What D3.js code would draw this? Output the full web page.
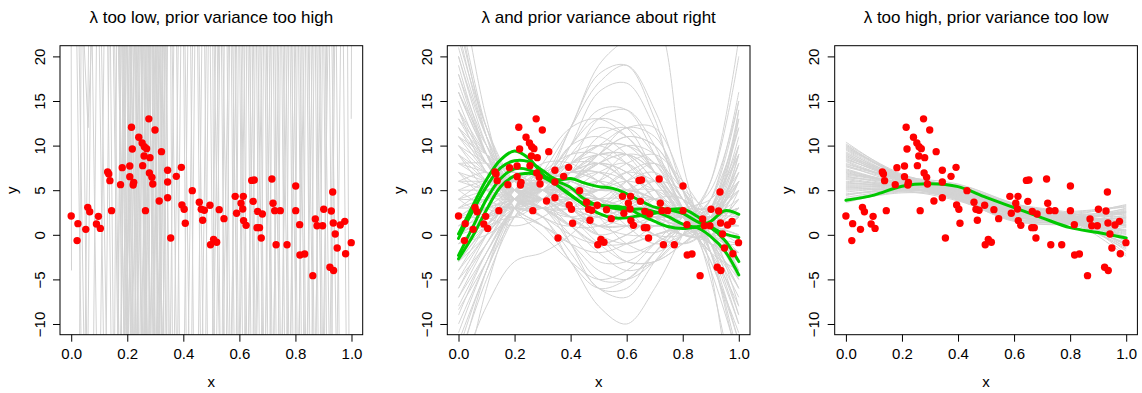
<!DOCTYPE html>
<html><head><meta charset="utf-8">
<script src="https://cdn.jsdelivr.net/npm/d3@7"></script>
<style>
html,body{margin:0;padding:0;background:#fff;}
svg{display:block;font-family:"Liberation Sans",Arial,Helvetica,sans-serif;}
</style></head><body>
<svg id="chart" width="1142" height="393"></svg>
<script>
// Panel titles and axis ticks
const titles = [
  "λ too low, prior variance too high",
  "λ and prior variance about right",
  "λ too high, prior variance too low"
];
const xTicks = [0, 0.2, 0.4, 0.6, 0.8, 1.0];
const yTicks = [-10, -5, 0, 5, 10, 15, 20];

// Observed data (same in every panel)
const obsX = [0.000,0.021,0.024,0.052,0.059,0.066,0.090,0.097,0.104,0.130,0.134,0.138,0.144,0.176,0.182,0.209,0.209,0.215,0.218,0.221,0.223,0.241,0.253,0.255,0.260,0.261,0.265,0.269,0.277,0.279,0.281,0.288,0.291,0.299,0.314,0.322,0.344,0.344,0.344,0.355,0.375,0.393,0.395,0.403,0.407,0.432,0.457,0.464,0.475,0.469,0.495,0.497,0.508,0.519,0.528,0.545,0.585,0.590,0.606,0.612,0.614,0.615,0.624,0.644,0.653,0.649,0.665,0.663,0.672,0.678,0.682,0.716,0.720,0.726,0.731,0.746,0.770,0.801,0.801,0.815,0.816,0.833,0.862,0.871,0.877,0.897,0.901,0.923,0.928,0.933,0.935,0.936,0.942,0.949,0.960,0.976,0.979,0.999];
const obsY = [2.11,-0.65,1.25,0.61,3.08,2.59,1.21,2.07,0.72,7.04,6.82,6.07,2.71,5.62,7.53,7.71,6.52,12.05,9.62,5.58,5.88,10.93,10.29,7.75,8.83,9.88,2.71,9.66,13.0,6.93,8.65,6.44,5.70,11.75,3.79,9.32,7.23,5.92,4.16,-0.36,6.55,7.56,3.35,2.86,1.29,4.95,3.65,2.86,2.75,1.63,3.31,-1.11,-0.51,-0.84,2.82,1.81,4.31,2.41,3.53,2.90,4.31,1.59,1.06,6.10,6.14,3.75,2.63,0.80,0.80,-0.36,2.33,6.26,3.53,2.71,-1.11,2.71,-1.11,5.47,2.71,1.14,-2.27,-2.15,-4.58,1.77,1.02,1.02,2.86,-3.63,2.67,4.80,1.33,-4.00,0.09,-1.48,1.10,1.51,-2.12,-0.88];

// Panel 1: prior draws are so rough that they cross the window almost vertically.
// Each entry: [x where the draw leaves the top, x where it leaves the bottom]
const p1Strokes = [
  [0.020,0.035],[0.035,0.030],[0.042,0.055],[0.062,0.050],[0.075,0.090],[0.090,0.080],
  [0.100,0.115],[0.117,0.105],[0.130,0.142],[0.140,0.150],[0.150,0.166],[0.162,0.155],
  [0.028,0.045],[0.070,0.060],[0.108,0.125],[0.135,0.125],[0.155,0.170],
  [0.170,0.180],[0.175,0.168],[0.180,0.195],[0.186,0.179],[0.190,0.201],[0.195,0.188],
  [0.200,0.214],[0.206,0.199],[0.210,0.221],[0.215,0.205],[0.220,0.231],[0.226,0.214],
  [0.230,0.240],[0.235,0.226],[0.240,0.252],[0.246,0.234],[0.250,0.261],[0.255,0.245],
  [0.260,0.266],[0.266,0.254],[0.270,0.281],[0.276,0.269],[0.280,0.291],[0.285,0.276],
  [0.290,0.300],[0.294,0.285],[0.300,0.311],[0.306,0.296],[0.310,0.316],[0.316,0.304],
  [0.320,0.331],[0.326,0.314],[0.331,0.340],[0.336,0.329],[0.341,0.346],[0.197,0.212],
  [0.228,0.238],[0.258,0.270],[0.288,0.296],[0.318,0.322],[0.172,0.188],[0.212,0.198],
  [0.243,0.228],[0.268,0.262],[0.296,0.310],
  [0.168,0.190],[0.178,0.165],[0.183,0.200],[0.193,0.176],[0.199,0.222],[0.208,0.190],
  [0.213,0.232],[0.224,0.203],[0.232,0.250],[0.238,0.218],[0.248,0.268],[0.253,0.236],
  [0.262,0.281],[0.272,0.250],[0.278,0.297],[0.283,0.264],[0.292,0.310],[0.302,0.281],
  [0.308,0.324],[0.313,0.293],[0.323,0.338],[0.329,0.308],[0.338,0.350],[0.344,0.327],
  [0.185,0.205],[0.217,0.196],[0.249,0.272],[0.281,0.258],[0.303,0.325],[0.334,0.316],
  [0.355,0.361],[0.366,0.354],[0.376,0.386],[0.391,0.380],[0.401,0.410],[0.416,0.404],
  [0.426,0.436],[0.441,0.430],[0.451,0.461],[0.466,0.454],[0.476,0.486],[0.489,0.480],
  [0.496,0.506],[0.360,0.375],[0.382,0.368],[0.406,0.420],[0.433,0.418],[0.456,0.470],
  [0.482,0.468],
  [0.505,0.511],[0.515,0.504],[0.521,0.531],[0.530,0.519],[0.536,0.546],[0.546,0.539],
  [0.556,0.566],[0.565,0.554],[0.571,0.581],[0.581,0.574],[0.586,0.596],[0.596,0.589],
  [0.601,0.611],[0.611,0.600],[0.616,0.626],[0.626,0.619],[0.631,0.641],[0.641,0.634],
  [0.646,0.656],[0.656,0.649],[0.661,0.671],[0.671,0.659],[0.676,0.686],[0.686,0.679],
  [0.691,0.701],[0.701,0.694],[0.706,0.716],[0.716,0.709],[0.721,0.731],[0.731,0.724],
  [0.736,0.746],[0.746,0.739],[0.751,0.761],[0.761,0.754],[0.766,0.776],[0.776,0.769],
  [0.781,0.791],[0.791,0.784],[0.796,0.806],[0.806,0.799],[0.811,0.821],[0.821,0.814],
  [0.826,0.836],[0.836,0.829],[0.841,0.851],[0.851,0.844],[0.856,0.866],[0.866,0.859],
  [0.871,0.881],[0.881,0.874],[0.886,0.896],[0.896,0.889],[0.901,0.911],[0.911,0.904],
  [0.921,0.931],[0.936,0.924],[0.946,0.956],[0.961,0.949],[0.971,0.981],[0.986,0.991],
  [0.510,0.528],[0.526,0.508],[0.541,0.560],[0.561,0.543],[0.576,0.592],[0.590,0.571],
  [0.606,0.622],[0.620,0.603],[0.636,0.652],[0.651,0.632],[0.666,0.683],[0.681,0.662],
  [0.696,0.712],[0.711,0.693],[0.726,0.742],[0.741,0.722],[0.756,0.772],[0.771,0.752],
  [0.786,0.802],[0.801,0.782],[0.816,0.832],[0.831,0.812],[0.846,0.862],[0.861,0.842],
  [0.876,0.892],[0.891,0.872],[0.906,0.920],[0.916,0.900],[0.930,0.945],[0.940,0.930]
];
// Panel 1 draws that turn around inside the window: lists of [x, y]
const p1Partial = [
  [[0.000,21.5],[0.001,-4.0]],
  [[0.046,21.5],[0.060,12.0],[0.072,21.5]],
  [[1.000,21.5],[0.999,13.0]]
];

// Panel 2: prior draws sampled at these x positions
const p2KnotX = [0, 0.1, 0.2, 0.3, 0.4, 0.5, 0.6, 0.7, 0.8, 0.9, 1.0];
const p2Gray = [
  [24,12,6,6,12,18,19,13,4,3,14],
  [21,11,5,5,10,16,17,12,5,2,9],
  [18,10,5,4,8,13,14,10,3,1,6],
  [16,9,4,5,9,12,11,7,2,2,10],
  [13,8,5,6,10,11,9,5,1,3,14],
  [12,9,6,6,8,10,10,8,3,0,2],
  [10,8,6,5,6,8,9,7,3,2,5],
  [9,7,6,5,4,5,7,6,3,1,3],
  [8,8,7,5,3,2,3,4,2,1,4],
  [7,6,5,5,4,3,2,2,2,2,6],
  [6,7,6,4,1,-1,0,2,2,1,0],
  [5,6,5,4,2,0,-1,0,1,2,8],
  [4,4,5,6,7,6,4,2,1,1,1],
  [3,4,4,5,6,7,6,3,0,0,5],
  [2,3,4,6,9,10,8,4,1,-1,-3],
  [1,2,4,6,10,13,12,7,2,-1,-2],
  [0,2,5,6,5,3,3,4,3,1,-4],
  [-1,1,4,6,6,4,1,-1,0,3,10],
  [-2,1,4,5,3,0,-2,-1,1,2,4],
  [-3,0,4,6,5,2,-1,-2,0,3,12],
  [-4,0,4,6,7,7,5,2,0,-1,-6],
  [-5,-1,4,7,9,9,6,2,0,0,2],
  [-6,-1,3,6,8,9,9,6,2,-3,-12],
  [-7,-2,3,6,10,14,14,9,3,-4,-14],
  [-8.4,-3,3,6,6,4,2,1,1,0,-5],
  [-12,-4,3,7,12,17,19,14,5,-5,-20],
  [-14,-5,2,6,12,19,22,24,8,-4,-25],
  [-15,-4,3,4,-1,-6,-6,-2,1,4,15],
  [20,10,4,2,-2,-6,-7,-3,1,6,20],
  [17,9,4,3,-1,-5,-5,-2,2,5,15],
  [14,7,4,3,0,-3,-3,-1,1,4,12],
  [11,7,4,3,1,-2,-4,-3,0,4,16],
  [19,9,3,1,-3,-8,-10,-6,0,6,22],
  [25,11,3,0,-3,-5,-4,-1,2,3,2],
  [30,13,4,3,4,4,3,2,1,2,6],
  [9,5,3,3,2,1,1,1,1,2,3],
  [7,4,3,4,3,2,3,3,2,0,-3],
  [11,8,5,4,5,7,8,5,1,-2,-8],
  [13,9,5,3,3,6,9,8,3,-3,-11],
  [4,5,6,5,4,4,6,7,4,-1,-7],
  [2,4,6,7,6,5,5,5,3,1,-1],
  [6,6,6,5,3,1,1,2,2,3,7],
  [1,3,5,4,2,2,4,6,5,2,-4],
  [-1,2,4,3,1,1,3,5,4,1,-3],
  [0,2,3,2,-3,-6,-5,-2,1,3,6],
  [3,3,3,2,0,-1,0,2,3,4,9],
  [8,6,4,2,1,3,6,8,5,0,-9],
  [10,6,3,3,6,9,11,10,5,0,-6],
  [-6,0,5,8,8,6,4,3,2,2,3],
  [-3,1,5,7,6,5,5,4,2,0,0],
  [5,3,2,4,7,9,9,6,2,-1,-1],
  [16,10,6,5,5,5,5,4,2,2,7],
  [22,12,6,4,3,3,3,2,1,1,1],
  [-10,-3,3,5,5,6,8,9,6,1,-8],
  [-9,-2,3,4,2,0,1,4,4,1,-2],
  [12,7,3,1,-1,-2,-1,1,2,2,1],
  [15,8,4,4,6,8,7,4,1,0,2],
  [-20,-6,3,8,12,13,11,7,2,-2,-4],
  [4,2,1,2,4,4,3,2,1,1,2],
  [0,1,2,1,-1,-4,-5,-3,0,2,2],
  [-16,-8,-3,-2,0,3,5,4,2,1,0],
  [20,11,6,5,7,9,8,5,2,1,3],
  [26,12,5,4,5,6,5,3,1,2,8],
  [18,9,4,4,7,11,12,9,4,0,-4],
  [14,9,5,4,4,5,6,5,2,0,-2],
  [-8,-2,3,5,6,8,10,9,4,-1,-9],
  [-5,0,3,4,3,3,5,6,3,-2,-10],
  [-3,1,4,5,5,4,2,0,-1,1,7],
  [-11,-3,3,6,8,8,6,3,0,1,9],
  [2,4,5,4,2,-1,-3,-3,-1,2,11],
  [6,5,4,3,3,4,4,3,1,1,4],
  [8,7,6,6,7,7,5,2,0,2,13],
  [11,9,7,5,3,1,0,0,1,3,9],
  [3,5,6,6,5,5,7,8,4,-2,-12],
  [1,3,4,5,7,9,11,10,5,-2,-14],
  [-2,2,5,5,3,1,2,3,3,3,5],
  [12,8,5,3,2,3,4,4,2,-1,-5],
  [16,9,5,5,7,8,6,2,-1,1,8],
  [23,11,5,3,1,-1,-1,0,1,2,5],
  [-7,-1,4,6,4,0,-3,-3,-1,2,6],
  [9,6,4,4,6,9,12,11,5,-1,-10],
  [5,5,5,4,4,4,3,3,2,2,3],
  [4,6,7,6,4,2,1,1,1,1,0],
  [-4,1,5,7,8,10,12,12,6,-2,-15],
  [7,5,4,5,7,8,7,4,1,1,6],
  [0,3,5,6,7,6,3,0,-1,3,13],
  [14,8,4,3,4,5,5,4,2,0,-2],
  [-13,-4,2,5,8,10,10,7,3,-1,-6],
  [10,7,5,5,5,4,2,0,0,2,10],
  [2,2,3,4,6,8,9,7,3,0,-1],
  [-1,0,2,4,5,4,3,2,2,2,3]
];
// Panel 2: posterior draws
const p2GreenX = [0,0.05,0.1,0.15,0.2,0.25,0.3,0.35,0.4,0.45,0.5,0.55,0.6,0.65,0.7,0.75,0.8,0.85,0.9,0.95,1.0];
const p2Green = [
  [0.1,3.2,6.2,8.4,9.4,8.6,6.8,5.6,4.4,3.5,3.4,3.0,2.8,2.9,2.6,2.0,1.2,0.9,1.5,2.7,2.3],
  [-0.4,2.6,5.4,7.5,8.3,8.2,7.2,6.2,6.3,5.8,5.4,5.2,4.6,3.8,3.1,2.8,2.4,1.5,0.8,-0.6,-3.0],
  [-2.3,0.8,4.0,6.3,7.4,7.3,6.5,5.6,4.5,3.3,2.4,1.9,1.9,2.2,2.4,2.8,2.9,2.1,0.9,0.1,-0.3],
  [-2.7,-0.2,2.8,5.4,6.6,6.9,6.6,6.0,5.3,4.0,3.3,3.2,3.0,2.2,1.5,0.9,0.7,0.8,-0.2,-1.8,-4.5]
];

// Panel 3: prior draws sampled at these x positions
const p3KnotX = [0, 0.2, 0.4, 0.6, 0.8, 1.0];
const p3Gray = [
  [10.4,6.6,5.0,2.8,1.8,0.5],[10.1,6.4,4.6,2.5,2.0,1.5],[9.8,6.7,5.4,3.2,1.6,-1.0],
  [9.5,6.2,4.8,2.9,2.3,2.5],[9.3,6.5,5.2,2.4,1.4,-0.5],[9.0,6.0,4.4,2.6,2.0,1.0],
  [8.8,6.3,5.5,3.4,1.9,-1.8],[8.6,6.1,4.9,2.2,1.5,2.0],[8.4,6.4,4.5,2.7,2.4,3.2],
  [8.2,5.9,5.1,3.0,1.7,0.0],[8.0,6.2,4.7,2.3,1.3,1.2],[7.8,5.8,5.3,3.3,2.1,-0.8],
  [7.6,6.0,4.3,2.0,1.8,2.8],[7.4,5.7,4.9,2.8,1.6,0.8],[7.2,5.9,5.6,3.5,2.2,-2.2],
  [7.0,5.6,4.6,2.5,1.9,1.8],[6.8,5.8,4.2,1.8,1.4,2.2],[6.6,5.5,5.0,3.1,2.5,0.3],
  [6.4,5.7,4.4,2.1,1.2,0.6],[6.2,5.4,5.2,3.2,1.8,-1.2],[6.0,5.6,4.8,2.6,2.0,2.4],
  [5.8,5.3,4.1,1.7,1.3,1.0],[5.6,5.5,5.4,3.4,2.3,-0.3],[5.4,5.2,4.5,2.4,1.6,1.6],
  [5.2,5.4,4.0,1.6,1.2,2.6],[5.0,5.1,4.9,2.9,2.1,0.2],[4.8,5.3,5.2,3.0,1.5,-1.6],
  [4.6,5.0,4.3,2.0,1.7,3.0],[4.4,5.2,3.9,1.5,1.2,1.4],[4.0,4.9,4.6,2.7,2.4,0.9],
  [3.6,4.8,3.8,1.6,1.4,2.0],[9.9,6.5,4.2,2.0,2.2,3.4],[8.9,6.6,5.7,3.5,1.7,-2.4],
  [7.9,6.1,4.0,1.9,2.0,2.9],[6.9,5.9,5.0,2.7,1.4,-0.2],[5.9,5.3,4.4,2.2,2.6,3.1],
  [10.2,6.8,5.3,3.0,1.5,-1.4],[9.1,6.3,4.1,1.8,1.6,1.9],[7.3,5.5,3.9,1.7,1.9,2.5],
  [5.3,5.0,4.7,2.6,1.3,0.4],
  [10.0,6.7,5.1,2.9,1.7,-0.2],[9.6,6.4,4.9,2.6,1.9,1.1],[9.2,6.1,4.5,2.3,2.1,2.3],
  [8.7,6.5,5.4,3.3,1.6,-1.1],[8.3,6.0,4.6,2.5,1.8,1.4],[7.7,6.3,5.2,3.1,2.0,-0.5],
  [7.1,5.7,4.5,2.2,1.5,1.9],[6.7,5.9,5.3,3.3,2.2,-1.5],[6.3,5.4,4.2,2.0,1.6,2.7],
  [5.7,5.6,5.0,2.8,1.8,0.1],[5.1,5.2,4.4,2.3,2.0,2.1],[4.5,5.0,4.8,2.9,1.9,-0.7],
  [4.2,4.9,4.0,1.8,1.3,1.7],[3.8,4.7,4.3,2.4,2.2,1.2],[8.5,6.2,4.8,2.7,2.5,3.3],
  [6.5,5.8,4.9,2.6,1.2,-0.9],[9.7,6.6,5.1,3.1,2.3,2.6],[5.5,5.3,4.6,2.5,1.5,0.5]
];
// Panel 3: posterior draw
const p3GreenX = [0, 0.1, 0.2, 0.3, 0.4, 0.5, 0.6, 0.7, 0.8, 0.9, 1.0];
const p3Green = [[3.87,4.45,5.45,5.72,5.4,4.2,3.05,1.9,0.8,0.25,-0.35]];

// ---- drawing ----
const svg = d3.select("#chart");
const panelLeft = [60, 447.3, 834.7];
const boxW = 302.7, boxTop = 45.7, boxBottom = 334.7;
const GRAY = "#d3d3d3", GREEN = "#00c800", RED = "#ff0000";

const points = obsX.map((x, i) => ({x, y: obsY[i]}));

panelLeft.forEach((left, p) => {
  const x = d3.scaleLinear().domain([-0.04, 1.04]).range([left, left + boxW]);
  const y = d3.scaleLinear().domain([-11.2, 21.2]).range([boxBottom, boxTop]);
  const g = svg.append("g");

  const clipId = "clip" + p;
  svg.append("clipPath").attr("id", clipId)
    .append("rect").attr("x", left).attr("y", boxTop)
    .attr("width", boxW).attr("height", boxBottom - boxTop);
  const plot = g.append("g").attr("clip-path", `url(#${clipId})`);

  const lineXY = d3.line().x(d => x(d[0])).y(d => y(d[1]));

  if (p === 0) {
    const strokes = p1Strokes.map(s => [[s[0], 21.5], [s[1], -11.5]]).concat(p1Partial);
    plot.selectAll("path.prior").data(strokes).join("path")
      .attr("class", "prior").attr("d", lineXY)
      .attr("fill", "none").attr("stroke", GRAY).attr("stroke-width", 1);
  } else {
    const kx = p === 1 ? p2KnotX : p3KnotX;
    const gray = p === 1 ? p2Gray : p3Gray;
    const gx = p === 1 ? p2GreenX : p3GreenX;
    const green = p === 1 ? p2Green : p3Green;
    const curve = d3.line().x(d => x(d[0])).y(d => y(d[1])).curve(d3.curveCatmullRom.alpha(0.5));
    plot.selectAll("path.prior").data(gray.map(r => r.map((v, i) => [kx[i], v]))).join("path")
      .attr("class", "prior").attr("d", curve)
      .attr("fill", "none").attr("stroke", GRAY).attr("stroke-width", 1);
    plot.selectAll("path.post").data(green.map(r => r.map((v, i) => [gx[i], v]))).join("path")
      .attr("class", "post").attr("d", curve)
      .attr("fill", "none").attr("stroke", GREEN).attr("stroke-width", 3)
      .attr("stroke-linejoin", "round").attr("stroke-linecap", "round");
  }

  plot.selectAll("circle").data(points).join("circle")
    .attr("cx", d => x(d.x)).attr("cy", d => y(d.y)).attr("r", 3.7)
    .attr("fill", RED);

  // plot box
  g.append("rect").attr("x", left).attr("y", boxTop)
    .attr("width", boxW).attr("height", boxBottom - boxTop)
    .attr("fill", "none").attr("stroke", "#000").attr("stroke-width", 1);

  // x axis
  const xa = g.append("g").attr("transform", `translate(0,${boxBottom})`)
    .call(d3.axisBottom(x).tickValues(xTicks).tickFormat(d3.format(".1f")).tickSize(7).tickPadding(7));
  xa.select(".domain").remove();
  xa.selectAll("text").attr("font-size", 15).attr("fill", "#000").attr("font-family", null);
  xa.selectAll("line").attr("stroke", "#000");

  // y axis with labels parallel to the axis
  const ya = g.append("g").attr("transform", `translate(${left},0)`)
    .call(d3.axisLeft(y).tickValues(yTicks).tickSize(7));
  ya.select(".domain").remove();
  ya.selectAll("line").attr("stroke", "#000");
  ya.selectAll("text").attr("x", null).attr("dy", null).attr("y", null)
    .attr("text-anchor", "middle").attr("font-size", 15).attr("fill", "#000").attr("font-family", null)
    .attr("transform", "translate(-15.5,0) rotate(-90)");

  // axis titles
  g.append("text").attr("x", x(0.5)).attr("y", 387).attr("text-anchor", "middle")
    .attr("font-size", 15).text("x");
  g.append("text").attr("transform", `translate(${left - 43},${y(5)}) rotate(-90)`)
    .attr("text-anchor", "middle").attr("font-size", 15).text("y");

  // panel title
  g.append("text").attr("x", left + boxW / 2).attr("y", 22.5).attr("text-anchor", "middle")
    .attr("font-size", 17).text(titles[p]);
});
</script>
</body></html>
